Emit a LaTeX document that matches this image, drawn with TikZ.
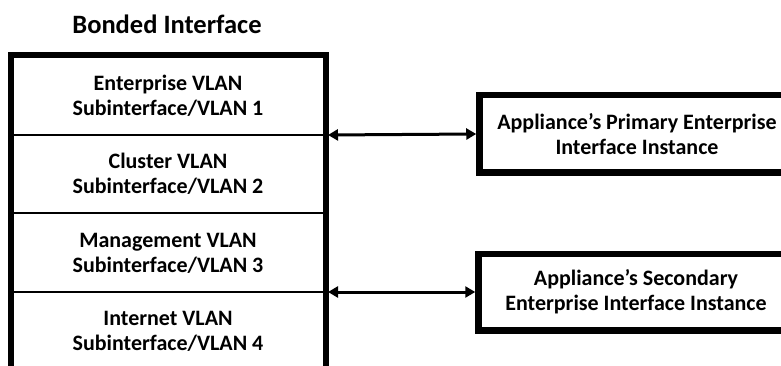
\documentclass[tikz,border=0pt]{standalone}
\usepackage{fontspec}
\setmainfont{Carlito}
\usetikzlibrary{arrows.meta}
\tikzset{
  seg/.style={align=center, font=\bfseries\fontsize{22}{25}\selectfont, inner sep=0pt},
  frame/.style={line width=6pt},
  divider/.style={line width=2pt},
  appbox/.style={draw, line width=6.5pt, minimum width=315pt, minimum height=77pt, align=center, font=\bfseries\fontsize{22}{25}\selectfont, inner sep=0pt},
  link/.style={line width=3pt, {Triangle[length=10pt,width=11pt]}-{Triangle[length=10pt,width=11pt]}},
  title/.style={font=\bfseries\fontsize{26.5}{30}\selectfont, inner sep=0pt}
}
\begin{document}
\begin{tikzpicture}[x=1pt,y=-1pt]
\useasboundingbox (0,0) rectangle (781,366);
\clip (0,0) rectangle (781,366);
\node[title] (title) at (167,24) {Bonded Interface};
% left bonded box frame
\draw[frame] (11,400) -- (11,55) -- (326,55) -- (326,400);
\draw[divider] (13,135) -- (324,135);
\draw[divider] (13,213) -- (324,213);
\draw[divider] (13,292) -- (324,292);
\node[seg] (s1) at (168,96) {Enterprise VLAN\\Subinterface/VLAN 1};
\node[seg] (s2) at (168,174) {Cluster VLAN\\Subinterface/VLAN 2};
\node[seg] (s3) at (168,253) {Management VLAN\\Subinterface/VLAN 3};
\node[seg] (s4) at (168,331) {Internet VLAN\\Subinterface/VLAN 4};
\coordinate (p1) at (328,135);
\coordinate (p2) at (328,292);
% right boxes
\node[appbox, minimum height=77.5pt] (prim) at (637,134) {Appliance’s Primary Enterprise\\Interface Instance};
\node[appbox, minimum height=76.5pt] (sec) at (636,292) {Appliance’s Secondary\\Enterprise Interface Instance};
\draw[link] (p1) -- (prim.west);
\draw[link] (p2) -- (sec.west);
\end{tikzpicture}
\end{document}
